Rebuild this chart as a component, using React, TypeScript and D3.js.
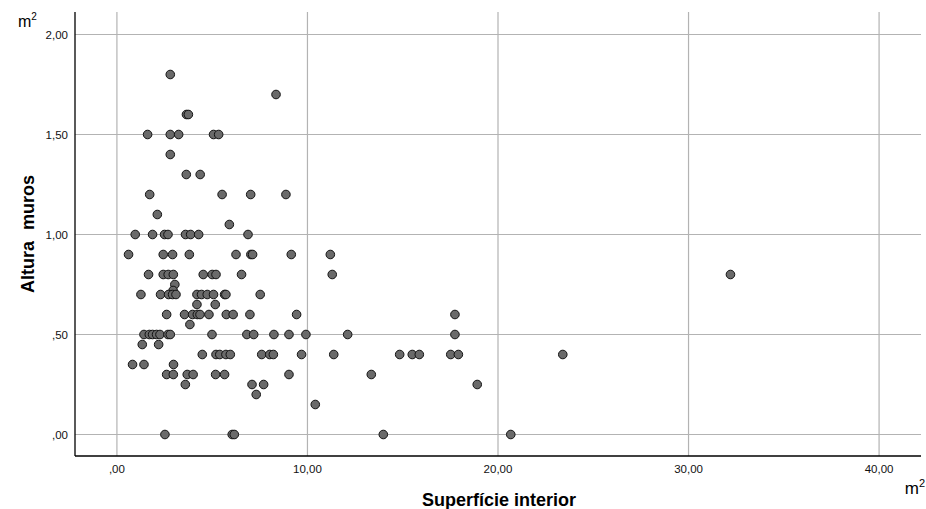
import React from "react";
import { scaleLinear } from "d3";

// Superfície interior (m2) and Altura muros
const superficie = [
  2.8,
  8.35,
  3.65, 3.75,
  1.61, 2.8, 3.24, 5.07, 5.34,
  2.8,
  3.64, 4.37,
  1.72, 5.52, 7.02, 8.87,
  2.12,
  5.9,
  0.96, 1.87, 2.5, 2.68, 3.6, 3.87, 4.29, 6.88,
  0.61, 2.43, 2.92, 3.8, 6.25, 7.03, 7.12, 9.15, 11.2,
  1.66, 2.43, 2.69, 2.96, 4.53, 5.0, 5.2, 6.54, 11.3, 32.2,
  3.04,
  2.95,
  1.26, 2.29, 2.71, 2.92, 3.1, 4.2, 4.44, 4.74, 5.07, 5.65, 5.72, 7.52,
  4.2, 5.16,
  2.61, 3.55, 3.97, 4.22, 4.36, 4.83, 5.74, 6.1, 6.98, 9.43, 17.74,
  3.83,
  1.42, 1.7, 1.87, 2.08, 2.26, 2.68, 2.8, 4.99, 6.82, 7.18, 8.24, 9.03, 9.92, 12.11, 17.74,
  1.33, 2.19,
  4.48, 5.2, 5.4, 5.72, 5.95, 7.6, 8.02, 8.21, 9.69, 11.38, 14.84, 15.5, 15.87, 17.52, 17.92, 23.4,
  0.82, 1.42, 2.97,
  2.61, 2.96, 3.69, 4.0, 5.18, 5.65, 9.03, 13.35,
  3.59, 7.09, 7.7, 18.91,
  7.31,
  10.41,
  2.52, 6.05, 6.16, 13.98, 20.67,
];

const altura = [
  1.8,
  1.7,
  1.6, 1.6,
  1.5, 1.5, 1.5, 1.5, 1.5,
  1.4,
  1.3, 1.3,
  1.2, 1.2, 1.2, 1.2,
  1.1,
  1.05,
  1.0, 1.0, 1.0, 1.0, 1.0, 1.0, 1.0, 1.0,
  0.9, 0.9, 0.9, 0.9, 0.9, 0.9, 0.9, 0.9, 0.9,
  0.8, 0.8, 0.8, 0.8, 0.8, 0.8, 0.8, 0.8, 0.8, 0.8,
  0.75,
  0.72,
  0.7, 0.7, 0.7, 0.7, 0.7, 0.7, 0.7, 0.7, 0.7, 0.7, 0.7, 0.7,
  0.65, 0.65,
  0.6, 0.6, 0.6, 0.6, 0.6, 0.6, 0.6, 0.6, 0.6, 0.6, 0.6,
  0.55,
  0.5, 0.5, 0.5, 0.5, 0.5, 0.5, 0.5, 0.5, 0.5, 0.5, 0.5, 0.5, 0.5, 0.5, 0.5,
  0.45, 0.45,
  0.4, 0.4, 0.4, 0.4, 0.4, 0.4, 0.4, 0.4, 0.4, 0.4, 0.4, 0.4, 0.4, 0.4, 0.4, 0.4,
  0.35, 0.35, 0.35,
  0.3, 0.3, 0.3, 0.3, 0.3, 0.3, 0.3, 0.3,
  0.25, 0.25, 0.25, 0.25,
  0.2,
  0.15,
  0, 0, 0, 0, 0,
];

const xTicks = [0, 10, 20, 30, 40];
const yTicks = [0, 0.5, 1, 1.5, 2];

const fmt = (v: number) => {
  const s = v.toFixed(2).replace(".", ",");
  return s.startsWith("0,") ? s.slice(1) : s;
};

const font = "Arial, 'Liberation Sans', sans-serif";

export default function App() {
  const width = 926;
  const height = 509;
  const left = 75, right = 921, top = 12, bottom = 456;

  const x = scaleLinear().domain([-2.2, 42.2]).range([left, right]);
  const y = scaleLinear().domain([-0.1075, 2.1125]).range([bottom, top]);

  const pts = superficie.map((s, i) => ({ s, a: altura[i] }));

  return (
    <svg
      width={width}
      height={height}
      style={{ position: "absolute", left: 0, top: 0, background: "#fff" }}
      fontFamily={font}
    >
      {/* grid */}
      {yTicks.map(t => (
        <line key={"gy" + t} x1={left} x2={right} y1={y(t)} y2={y(t)} stroke="#b3b3b3" strokeWidth={1.2} />
      ))}
      {xTicks.map(t => (
        <line key={"gx" + t} x1={x(t)} x2={x(t)} y1={top} y2={bottom} stroke="#b3b3b3" strokeWidth={1.2} />
      ))}

      {/* axes */}
      <line x1={left} x2={left} y1={top} y2={bottom} stroke="#000" strokeWidth={1.3} />
      <line x1={left} x2={right} y1={bottom} y2={bottom} stroke="#000" strokeWidth={1.3} />

      {yTicks.map(t => (
        <text key={"ly" + t} x={68} y={y(t)} dy="0.35em" textAnchor="end" fontSize={11.5} fill="#111">
          {fmt(t)}
        </text>
      ))}
      {xTicks.map(t => (
        <text key={"lx" + t} x={x(t)} y={473} textAnchor="middle" fontSize={11.5} fill="#111">
          {fmt(t)}
        </text>
      ))}

      {/* points */}
      {pts.map((p, i) => (
        <circle key={i} cx={x(p.s)} cy={y(p.a)} r={4.3} fill="#6a6a6a" stroke="#111" strokeWidth={1} />
      ))}

      {/* units */}
      <text x={18} y={27} fontSize={16} fill="#000">
        m<tspan dy={-7} fontSize={10}>2</tspan>
      </text>
      <text x={925} y={494} textAnchor="end" fontSize={17} fill="#000">
        m<tspan dy={-7} fontSize={11}>2</tspan>
      </text>

      {/* titles */}
      <text x={499} y={506} textAnchor="middle" fontSize={18} fontWeight="bold" fill="#000">
        Superfície interior
      </text>
      <text
        transform={`translate(34,234) rotate(-90)`}
        textAnchor="middle"
        fontSize={18}
        fontWeight="bold"
        fill="#000"
        wordSpacing={6}
      >
        Altura muros
      </text>
    </svg>
  );
}
